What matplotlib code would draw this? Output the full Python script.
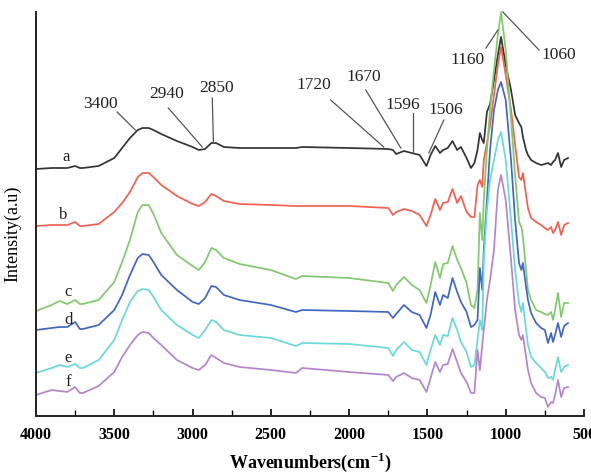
import matplotlib
matplotlib.use("Agg")
import matplotlib.pyplot as plt
import numpy as np

# Wavenumber grid (cm^-1)
wavenumbers = [4000, 3900, 3850, 3800, 3750, 3720, 3700, 3600, 3500, 3450,
               3400, 3350, 3320, 3280, 3250, 3200, 3100, 3000, 2960, 2920,
               2880, 2850, 2800, 2700, 2500, 2340, 2300, 2000, 1750, 1720,
               1700, 1650, 1600, 1550, 1506, 1480, 1450, 1420, 1400, 1370,
               1340, 1310, 1286, 1250, 1222, 1200, 1180, 1165, 1150, 1140,
               1120, 1100, 1075, 1050, 1030, 1000, 966, 940, 915, 900,
               890, 870, 858, 838, 806, 774, 750, 730, 710, 698,
               685, 666, 646, 627, 602]

# Offset spectra (arbitrary intensity units)
curve_a = [247, 248, 248, 248, 250, 248, 248, 250, 258, 268,
           278, 286, 288, 288, 286, 282, 275, 269, 266, 267,
           273, 273, 269, 268, 268, 268, 269, 268, 267, 266,
           262, 265, 263, 261, 250, 261, 270, 263, 266, 268,
           275, 266, 269, 258, 248, 253, 266, 283, 276, 273,
           304, 312, 336, 361, 379, 351, 326, 301, 293, 289,
           279, 266, 261, 256, 253, 251, 252, 253, 251, 254,
           256, 263, 249, 256, 258]
curve_b = [190, 191, 191, 191, 194, 190, 190, 192, 204, 213,
           224, 239, 243, 243, 239, 231, 220, 212, 210, 214,
           222, 220, 215, 212, 211, 210, 210, 210, 208, 201,
           204, 207, 205, 201, 190, 201, 217, 206, 213, 214,
           227, 213, 220, 204, 199, 199, 231, 236, 229, 256,
           273, 291, 321, 351, 369, 341, 306, 271, 239, 236,
           243, 221, 208, 198, 194, 191, 188, 186, 189, 183,
           186, 194, 181, 191, 193]
curve_c = [105, 111, 115, 112, 116, 112, 112, 116, 134, 154,
           176, 204, 211, 211, 202, 183, 161, 150, 146, 154,
           168, 166, 158, 152, 146, 137, 140, 138, 133, 125,
           131, 139, 131, 126, 113, 131, 154, 138, 152, 153,
           170, 156, 148, 133, 111, 108, 126, 203, 176, 216,
           266, 306, 346, 381, 404, 366, 296, 241, 194, 189,
           179, 146, 126, 116, 106, 104, 102, 101, 104, 96,
           106, 123, 99, 113, 113]
curve_d = [86, 88, 89, 89, 94, 87, 87, 91, 106, 121,
           141, 158, 162, 161, 154, 141, 126, 114, 112, 118,
           130, 129, 121, 116, 111, 104, 106, 105, 104, 98,
           102, 111, 104, 101, 88, 101, 124, 111, 121, 118,
           138, 124, 114, 104, 89, 91, 96, 148, 126, 166,
           216, 266, 306, 326, 334, 316, 256, 196, 153, 146,
           153, 129, 116, 103, 93, 88, 86, 73, 83, 74,
           81, 93, 79, 90, 93]
curve_e = [43, 48, 51, 49, 52, 48, 48, 56, 76, 96,
           114, 125, 127, 126, 119, 106, 91, 81, 78, 86,
           96, 94, 86, 81, 78, 70, 73, 72, 68, 60,
           66, 74, 66, 64, 51, 66, 81, 71, 81, 80,
           98, 86, 74, 64, 49, 51, 76, 96, 86, 156,
           206, 236, 256, 276, 284, 256, 196, 146, 113, 104,
           113, 86, 71, 59, 53, 48, 44, 38, 39, 36,
           46, 59, 44, 49, 51]
curve_f = [21, 26, 25, 24, 29, 23, 23, 30, 44, 59,
           71, 81, 84, 83, 78, 71, 56, 48, 46, 51,
           61, 58, 53, 49, 46, 43, 48, 44, 41, 35,
           39, 43, 38, 36, 24, 38, 54, 44, 51, 52,
           67, 54, 43, 34, 23, 23, 66, 46, 71, 86,
           116, 136, 166, 226, 241, 216, 156, 106, 81, 76,
           81, 59, 46, 33, 23, 19, 18, 9, 14, 13,
           21, 36, 19, 28, 29]

series_labels = ["a", "b", "c", "d", "e", "f"]
series_colors = ["#333333", "#F4604F", "#7FCB6A", "#3F67C3", "#67DADA", "#B784CC"]
label_pos = [(3808, 259), (3827, 201), (3795, 124), (3795, 96), (3795, 58), (3795, 34)]

# Peak annotations: text, text position, line start, line end
peak_labels = ["3400", "2940", "2850", "1720", "1670", "1596", "1506", "1160", "1060"]
peak_text_xy = [(3590, 312), (3168, 322), (2848, 328), (2227, 331), (1907, 339),
                (1658, 311), (1382, 306), (1242, 356), (659, 361)]
peak_line_from = [(3482, 304), (3155, 308), (2874, 318), (2118, 316), (1894, 326),
                  (1594, 303), (1395, 296), (1126, 368), (787, 366)]
peak_line_to = [(3366, 286), (2938, 269), (2867, 274), (1779, 269), (1670, 268),
                (1594, 263), (1491, 263), (1050, 386), (1018, 404)]

serif = ["Liberation Serif", "DejaVu Serif"]

fig = plt.figure(figsize=(5.91, 4.75), dpi=100)
ax = fig.add_axes([36 / 591, 59 / 475, 548 / 591, 404 / 475])

curves = [curve_a, curve_b, curve_c, curve_d, curve_e, curve_f]
for y, c in zip(curves, series_colors):
    ax.plot(wavenumbers, y, color=c, lw=1.25, clip_on=False)

for lab, (x, y) in zip(series_labels, label_pos):
    ax.text(x, y, lab, family=serif, fontsize=12, ha="center", va="center", color="#222222")

for t, txy, p0, p1 in zip(peak_labels, peak_text_xy, peak_line_from, peak_line_to):
    ax.text(txy[0], txy[1], t, family=serif, fontsize=12.5, ha="center", va="center",
            color="#222222")
    ax.plot([p0[0], p1[0]], [p0[1], p1[1]], color="#555555", lw=0.9, clip_on=False)

ax.set_xlim(4000, 500)
ax.set_ylim(0, 404)
ax.set_xticks(np.arange(4000, 499, -500))
ax.set_xticks(np.arange(3750, 500, -500), minor=True)
ax.set_yticks([])
ax.tick_params(axis="x", which="major", direction="in", length=5, width=1.2, pad=8)
ax.tick_params(axis="x", which="minor", direction="in", length=4, width=1.0)
for lbl in ax.get_xticklabels():
    lbl.set_family(serif)
    lbl.set_fontweight("bold")
    lbl.set_fontsize(11.5)

for s in ["top", "right"]:
    ax.spines[s].set_visible(False)
for s in ["left", "bottom"]:
    ax.spines[s].set_linewidth(1.4)
    ax.spines[s].set_color("#222222")

ax.set_xlabel("Wavenumbers(cm$^{\\mathregular{-1}}$)", family=serif, fontsize=13,
              fontweight="bold")
ax.xaxis.set_label_coords(0.5, -0.085)
ax.set_ylabel("Intensity(a.u)", family=serif, fontsize=13)
ax.yaxis.set_label_coords(-0.026, 0.45)

fig.savefig("out.png", dpi=100)
